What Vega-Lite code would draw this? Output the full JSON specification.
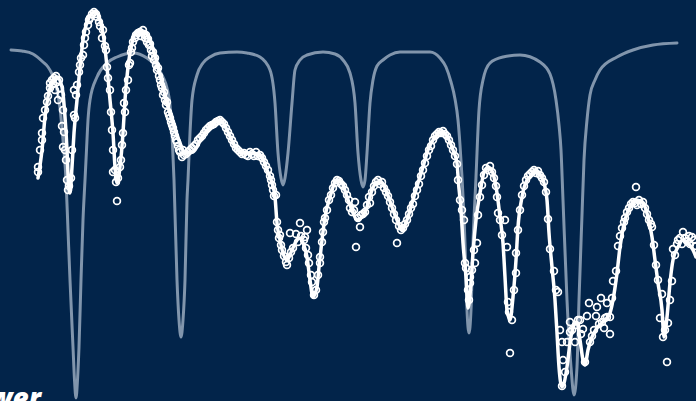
{
  "$schema": "https://vega.github.io/schema/vega-lite/v6.json",
  "width": 696,
  "height": 401,
  "autosize": {"type": "none"},
  "padding": 0,
  "background": "#02244A",
  "config": {"view": {"stroke": null}},
  "datasets": {
    "reference": [
      {"x":11,"y":50},{"x":22,"y":51},{"x":33,"y":54},{"x":43,"y":62},{"x":48,"y":67},{"x":52,"y":74},{"x":56,"y":86},{"x":60,"y":108},{"x":63,"y":140},{"x":66,"y":180},{"x":68,"y":230},{"x":70,"y":280},{"x":73,"y":347},{"x":74.5,"y":380},{"x":76,"y":398},{"x":77.5,"y":380},{"x":79,"y":347},{"x":81,"y":280},{"x":83,"y":220},{"x":85,"y":180},{"x":86.5,"y":150},{"x":88,"y":120},{"x":90,"y":100},{"x":97,"y":77},{"x":107,"y":63},{"x":117,"y":57},{"x":133,"y":53},{"x":147,"y":58},{"x":157,"y":67},{"x":163,"y":77},{"x":167,"y":88},{"x":170,"y":105},{"x":172,"y":133},{"x":174,"y":180},{"x":177,"y":280},{"x":179,"y":320},{"x":181,"y":337},{"x":183,"y":320},{"x":185,"y":280},{"x":187,"y":200},{"x":188,"y":180},{"x":190,"y":133},{"x":192,"y":100},{"x":197,"y":75},{"x":203,"y":63},{"x":210,"y":57},{"x":220,"y":53},{"x":237,"y":52},{"x":247,"y":53},{"x":260,"y":57},{"x":270,"y":70},{"x":275,"y":103},{"x":278,"y":153},{"x":281,"y":178},{"x":283,"y":185},{"x":285,"y":178},{"x":288,"y":153},{"x":292,"y":103},{"x":295,"y":70},{"x":300,"y":60},{"x":307,"y":55},{"x":323,"y":52},{"x":335,"y":54},{"x":343,"y":60},{"x":350,"y":73},{"x":355,"y":103},{"x":358,"y":153},{"x":361,"y":180},{"x":363,"y":187},{"x":365,"y":180},{"x":367,"y":153},{"x":370,"y":103},{"x":373,"y":80},{"x":377,"y":66},{"x":383,"y":60},{"x":390,"y":55},{"x":400,"y":52},{"x":430,"y":52},{"x":440,"y":58},{"x":446,"y":67},{"x":451,"y":82},{"x":455,"y":99},{"x":458,"y":120},{"x":460,"y":145},{"x":462,"y":177},{"x":465,"y":243},{"x":467,"y":310},{"x":469,"y":333},{"x":471,"y":310},{"x":473,"y":243},{"x":476,"y":177},{"x":479,"y":110},{"x":483,"y":80},{"x":490,"y":63},{"x":503,"y":57},{"x":520,"y":55},{"x":540,"y":62},{"x":550,"y":74},{"x":556,"y":100},{"x":559,"y":125},{"x":561,"y":150},{"x":563,"y":200},{"x":567,"y":300},{"x":571,"y":367},{"x":574,"y":395},{"x":577,"y":367},{"x":579,"y":300},{"x":582,"y":215},{"x":584,"y":160},{"x":587,"y":120},{"x":590,"y":95},{"x":595,"y":80},{"x":600,"y":70},{"x":617,"y":57},{"x":633,"y":50},{"x":653,"y":45},{"x":677,"y":43}
    ],
    "fit": [
      {"x":38,"y":178},{"x":42,"y":150},{"x":45,"y":117},{"x":48,"y":97},{"x":53,"y":80},{"x":57,"y":77},{"x":62,"y":87},{"x":65,"y":117},{"x":67,"y":150},{"x":68.5,"y":183},{"x":70,"y":193},{"x":72,"y":167},{"x":74,"y":133},{"x":77,"y":100},{"x":80,"y":67},{"x":83,"y":40},{"x":88,"y":20},{"x":95,"y":12},{"x":100,"y":20},{"x":103,"y":33},{"x":107,"y":67},{"x":110,"y":100},{"x":113,"y":133},{"x":115,"y":167},{"x":117,"y":183},{"x":120,"y":167},{"x":123,"y":133},{"x":125,"y":100},{"x":128,"y":67},{"x":132,"y":43},{"x":137,"y":32},{"x":142,"y":31},{"x":150,"y":40},{"x":157,"y":63},{"x":163,"y":87},{"x":168,"y":107},{"x":173,"y":123},{"x":180,"y":143},{"x":185,"y":153},{"x":193,"y":152},{"x":202,"y":137},{"x":210,"y":127},{"x":220,"y":120},{"x":227,"y":130},{"x":233,"y":143},{"x":243,"y":153},{"x":253,"y":153},{"x":262,"y":157},{"x":267,"y":170},{"x":272,"y":183},{"x":275,"y":197},{"x":277,"y":223},{"x":280,"y":240},{"x":283,"y":253},{"x":287,"y":260},{"x":292,"y":250},{"x":297,"y":240},{"x":300,"y":238},{"x":303,"y":243},{"x":307,"y":257},{"x":310,"y":280},{"x":313,"y":297},{"x":317,"y":287},{"x":319,"y":267},{"x":322,"y":240},{"x":325,"y":217},{"x":330,"y":197},{"x":337,"y":180},{"x":342,"y":183},{"x":347,"y":197},{"x":352,"y":210},{"x":357,"y":220},{"x":362,"y":217},{"x":367,"y":207},{"x":372,"y":190},{"x":377,"y":182},{"x":382,"y":183},{"x":387,"y":193},{"x":392,"y":207},{"x":397,"y":220},{"x":402,"y":230},{"x":407,"y":220},{"x":412,"y":203},{"x":418,"y":183},{"x":423,"y":167},{"x":428,"y":150},{"x":435,"y":137},{"x":442,"y":132},{"x":448,"y":138},{"x":453,"y":150},{"x":457,"y":163},{"x":458.5,"y":183},{"x":461,"y":210},{"x":463,"y":243},{"x":466,"y":277},{"x":468,"y":308},{"x":471,"y":283},{"x":473,"y":253},{"x":476,"y":220},{"x":480,"y":193},{"x":485,"y":170},{"x":490,"y":168},{"x":494,"y":177},{"x":497,"y":193},{"x":500,"y":217},{"x":503,"y":243},{"x":505,"y":277},{"x":507,"y":310},{"x":510,"y":320},{"x":513,"y":297},{"x":516,"y":260},{"x":518,"y":227},{"x":522,"y":197},{"x":527,"y":180},{"x":530,"y":177},{"x":535,"y":170},{"x":538,"y":172},{"x":543,"y":180},{"x":547,"y":200},{"x":549,"y":233},{"x":552,"y":267},{"x":555,"y":300},{"x":557,"y":333},{"x":559,"y":367},{"x":562,"y":387},{"x":567,"y":367},{"x":570,"y":343},{"x":573,"y":327},{"x":577,"y":323},{"x":580,"y":340},{"x":583,"y":360},{"x":585,"y":365},{"x":588,"y":350},{"x":592,"y":337},{"x":597,"y":328},{"x":605,"y":320},{"x":610,"y":313},{"x":613,"y":300},{"x":617,"y":273},{"x":620,"y":247},{"x":625,"y":220},{"x":630,"y":207},{"x":637,"y":200},{"x":643,"y":203},{"x":648,"y":217},{"x":652,"y":237},{"x":655,"y":260},{"x":658,"y":283},{"x":662,"y":310},{"x":664,"y":337},{"x":667,"y":317},{"x":670,"y":283},{"x":673,"y":260},{"x":678,"y":247},{"x":683,"y":240},{"x":688,"y":243},{"x":693,"y":250},{"x":696,"y":257}
    ],
    "measured": [
      {"x":38,"y":172},{"x":38,"y":167},{"x":40,"y":150},{"x":42,"y":140},{"x":42,"y":133},{"x":43,"y":118},{"x":45,"y":110},{"x":47,"y":102},{"x":48,"y":96},{"x":50,"y":88},{"x":50,"y":83},{"x":52,"y":80},{"x":53,"y":84},{"x":54,"y":78},{"x":55,"y":90},{"x":56,"y":76},{"x":57,"y":82},{"x":58,"y":100},{"x":59,"y":80},{"x":60,"y":88},{"x":61,"y":95},{"x":62,"y":126},{"x":63,"y":110},{"x":63,"y":147},{"x":64,"y":132},{"x":65,"y":150},{"x":66,"y":160},{"x":67,"y":180},{"x":68,"y":190},{"x":69,"y":186},
      {"x":71,"y":178},{"x":72,"y":150},{"x":74,"y":115},{"x":74,"y":90},{"x":75,"y":118},{"x":76,"y":95},{"x":77,"y":85},{"x":79,"y":72},{"x":80,"y":65},{"x":81,"y":58},{"x":83,"y":55},{"x":84,"y":45},{"x":85,"y":38},{"x":86,"y":32},{"x":88,"y":25},{"x":89,"y":20},{"x":90,"y":18},{"x":92,"y":14},{"x":94,"y":12},{"x":96,"y":14},{"x":97,"y":17},{"x":99,"y":22},{"x":100,"y":26},{"x":102,"y":38},{"x":103,"y":30},{"x":105,"y":46},{"x":106,"y":50},{"x":107,"y":67},{"x":108,"y":78},{"x":110,"y":90},{"x":111,"y":112},{"x":112,"y":130},{"x":113,"y":150},{"x":113,"y":172},{"x":115,"y":170},{"x":116,"y":182},{"x":117,"y":201},{"x":118,"y":178},
      {"x":120,"y":167},{"x":121,"y":160},{"x":122,"y":145},{"x":123,"y":133},{"x":124,"y":103},{"x":125,"y":112},{"x":126,"y":90},{"x":128,"y":80},{"x":129,"y":65},{"x":130,"y":63},{"x":131,"y":52},{"x":132,"y":48},{"x":133,"y":42},{"x":135,"y":38},{"x":136,"y":35},{"x":138,"y":33},{"x":140,"y":32},{"x":141,"y":36},{"x":143,"y":30},{"x":144,"y":34},{"x":145,"y":38},{"x":146,"y":35},{"x":147,"y":42},{"x":148,"y":39},
      {"x":149,"y":45},{"x":150,"y":44},{"x":151,"y":50},{"x":152,"y":56},{"x":153,"y":52},{"x":154,"y":60},{"x":155,"y":58},{"x":156,"y":65},{"x":157,"y":70},{"x":158,"y":68},{"x":159,"y":76},{"x":160,"y":80},{"x":161,"y":85},{"x":162,"y":88},{"x":163,"y":95},{"x":164,"y":92},{"x":165,"y":100},{"x":166,"y":105},{"x":167,"y":102},{"x":168,"y":112},{"x":169,"y":115},{"x":170,"y":118},{"x":171,"y":122},{"x":172,"y":125},{"x":173,"y":128},{"x":174,"y":132},{"x":175,"y":136},{"x":176,"y":140},{"x":177,"y":142},{"x":178,"y":146},{"x":179,"y":150},{"x":180,"y":152},{"x":182,"y":157},{"x":183,"y":150},{"x":184,"y":155},{"x":186,"y":154},
      {"x":188,"y":152},{"x":190,"y":150},{"x":192,"y":148},{"x":194,"y":146},{"x":196,"y":144},{"x":198,"y":140},{"x":200,"y":138},{"x":202,"y":136},{"x":204,"y":133},{"x":206,"y":130},{"x":208,"y":128},{"x":210,"y":126},{"x":212,"y":125},{"x":214,"y":124},{"x":216,"y":122},{"x":218,"y":121},{"x":220,"y":120},{"x":222,"y":122},{"x":224,"y":124},{"x":226,"y":128},{"x":228,"y":132},{"x":230,"y":136},{"x":232,"y":140},{"x":234,"y":144},{"x":236,"y":148},{"x":238,"y":150},{"x":240,"y":152},{"x":242,"y":154},{"x":244,"y":153},{"x":246,"y":155},{"x":248,"y":156},{"x":250,"y":152},{"x":252,"y":154},{"x":254,"y":156},{"x":256,"y":152},{"x":258,"y":156},{"x":260,"y":155},{"x":262,"y":158},{"x":264,"y":162},{"x":266,"y":166},{"x":268,"y":170},{"x":270,"y":176},{"x":271,"y":180},
      {"x":272,"y":185},{"x":273,"y":190},{"x":274,"y":196},{"x":276,"y":195},{"x":277,"y":222},{"x":278,"y":230},{"x":279,"y":238},{"x":280,"y":235},{"x":281,"y":245},{"x":282,"y":250},{"x":284,"y":256},{"x":286,"y":262},{"x":287,"y":265},{"x":289,"y":258},{"x":290,"y":233},{"x":291,"y":252},{"x":293,"y":248},{"x":296,"y":234},{"x":298,"y":242},{"x":300,"y":223},{"x":301,"y":236},{"x":304,"y":240},{"x":305,"y":237},{"x":307,"y":230},{"x":306,"y":248},{"x":308,"y":255},{"x":309,"y":263},{"x":311,"y":275},{"x":312,"y":282},{"x":314,"y":295},{"x":316,"y":290},{"x":318,"y":275},{"x":320,"y":257},{"x":320,"y":263},
      {"x":322,"y":242},{"x":323,"y":232},{"x":324,"y":222},{"x":325,"y":218},{"x":327,"y":210},{"x":329,"y":200},{"x":331,"y":195},{"x":333,"y":188},{"x":335,"y":183},{"x":337,"y":180},{"x":339,"y":181},{"x":341,"y":184},{"x":343,"y":186},{"x":345,"y":190},{"x":347,"y":195},{"x":349,"y":200},{"x":350,"y":208},{"x":352,"y":212},{"x":354,"y":210},{"x":355,"y":202},{"x":356,"y":247},{"x":358,"y":218},{"x":360,"y":227},{"x":361,"y":215},{"x":363,"y":214},{"x":365,"y":212},{"x":367,"y":205},{"x":369,"y":197},{"x":370,"y":203},{"x":372,"y":192},{"x":374,"y":186},{"x":376,"y":182},{"x":378,"y":180},{"x":380,"y":184},{"x":382,"y":182},{"x":384,"y":188},{"x":386,"y":192},{"x":388,"y":196},{"x":390,"y":202},{"x":392,"y":208},{"x":394,"y":214},{"x":396,"y":220},{"x":397,"y":243},{"x":399,"y":226},{"x":401,"y":230},
      {"x":403,"y":228},{"x":405,"y":224},{"x":407,"y":220},{"x":409,"y":214},{"x":411,"y":208},{"x":413,"y":204},{"x":415,"y":196},{"x":417,"y":190},{"x":419,"y":184},{"x":421,"y":176},{"x":423,"y":170},{"x":425,"y":163},{"x":427,"y":156},{"x":429,"y":150},{"x":431,"y":146},{"x":433,"y":140},{"x":435,"y":136},{"x":437,"y":134},{"x":439,"y":132},{"x":441,"y":133},{"x":443,"y":131},{"x":445,"y":134},{"x":447,"y":136},{"x":449,"y":140},{"x":451,"y":145},{"x":453,"y":150},{"x":455,"y":156},{"x":457,"y":164},{"x":458,"y":180},{"x":460,"y":200},{"x":462,"y":210},{"x":464,"y":220},{"x":465,"y":263},{"x":466,"y":268},{"x":468,"y":290},{"x":469,"y":300},{"x":470,"y":277},{"x":470,"y":283},
      {"x":472,"y":270},{"x":474,"y":250},{"x":475,"y":263},{"x":477,"y":243},{"x":478,"y":215},{"x":480,"y":197},{"x":482,"y":185},{"x":484,"y":175},{"x":486,"y":168},{"x":488,"y":170},{"x":490,"y":166},{"x":492,"y":172},{"x":494,"y":178},{"x":496,"y":186},{"x":497,"y":197},{"x":498,"y":213},{"x":500,"y":220},{"x":502,"y":235},{"x":505,"y":220},{"x":507,"y":247},{"x":508,"y":302},{"x":509,"y":312},{"x":510,"y":353},{"x":512,"y":320},{"x":514,"y":290},{"x":516,"y":253},{"x":516,"y":273},{"x":518,"y":230},{"x":520,"y":210},{"x":522,"y":195},{"x":524,"y":186},{"x":526,"y":180},{"x":528,"y":176},
      {"x":530,"y":174},{"x":532,"y":172},{"x":534,"y":170},{"x":536,"y":173},{"x":538,"y":171},{"x":540,"y":175},{"x":542,"y":178},{"x":544,"y":182},{"x":546,"y":192},{"x":548,"y":219},{"x":550,"y":249},{"x":554,"y":271},{"x":556,"y":290},{"x":558,"y":292},{"x":560,"y":330},{"x":562,"y":342},{"x":563,"y":360},{"x":562,"y":386},{"x":565,"y":372},{"x":567,"y":342},{"x":570,"y":332},{"x":570,"y":322},{"x":572,"y":330},{"x":575,"y":342},{"x":576,"y":325},{"x":578,"y":320},{"x":580,"y":320},{"x":581,"y":334},{"x":583,"y":329},{"x":585,"y":362},{"x":587,"y":316},{"x":589,"y":303},{"x":590,"y":342},{"x":592,"y":336},{"x":594,"y":330},{"x":596,"y":316},{"x":597,"y":307},{"x":599,"y":324},{"x":601,"y":298},{"x":602,"y":322},{"x":604,"y":328},{"x":605,"y":318},{"x":607,"y":303},{"x":607,"y":317},{"x":610,"y":317},{"x":610,"y":334},{"x":612,"y":298},
      {"x":613,"y":281},{"x":616,"y":271},{"x":618,"y":246},{"x":620,"y":236},{"x":622,"y":228},{"x":624,"y":222},{"x":625,"y":218},{"x":627,"y":212},{"x":629,"y":208},{"x":631,"y":204},{"x":633,"y":202},{"x":635,"y":203},{"x":636,"y":187},{"x":637,"y":205},{"x":639,"y":200},{"x":641,"y":204},{"x":643,"y":202},{"x":645,"y":208},{"x":647,"y":214},{"x":649,"y":220},{"x":651,"y":224},{"x":652,"y":227},{"x":654,"y":245},{"x":656,"y":265},{"x":658,"y":280},{"x":660,"y":318},{"x":662,"y":294},{"x":663,"y":337},{"x":665,"y":330},{"x":667,"y":362},{"x":668,"y":323},{"x":670,"y":300},{"x":672,"y":281},{"x":673,"y":249},{"x":675,"y":255},{"x":677,"y":244},{"x":678,"y":240},{"x":680,"y":238},{"x":682,"y":244},{"x":683,"y":232},{"x":685,"y":238},{"x":687,"y":241},{"x":689,"y":236},{"x":690,"y":244},{"x":692,"y":237},{"x":694,"y":240},{"x":696,"y":246}
    ],
    "label": [{"x": 41, "y": 408, "text": "Power"}]
  },
  "encoding": {
    "x": {"field": "x", "type": "quantitative", "scale": {"domain": [0, 696], "nice": false, "zero": false}, "axis": null},
    "y": {"field": "y", "type": "quantitative", "scale": {"domain": [0, 401], "nice": false, "zero": false, "reverse": true}, "axis": null}
  },
  "layer": [
    {
      "data": {"name": "reference"},
      "mark": {"type": "line", "interpolate": "monotone", "stroke": "#8195AC", "strokeWidth": 3, "strokeCap": "round"}
    },
    {
      "data": {"name": "fit"},
      "mark": {"type": "line", "interpolate": "monotone", "stroke": "#FFFFFF", "strokeWidth": 3.5, "strokeCap": "round", "strokeJoin": "round"}
    },
    {
      "data": {"name": "measured"},
      "mark": {"type": "point", "shape": "circle", "filled": false, "stroke": "#FFFFFF", "strokeWidth": 1.7, "size": 46, "opacity": 1}
    },
    {
      "data": {"name": "label"},
      "mark": {"type": "text", "align": "right", "baseline": "alphabetic", "font": "Open Sans", "fontSize": 28, "fontWeight": 800, "fontStyle": "italic", "color": "#FFFFFF"},
      "encoding": {"text": {"field": "text"}}
    }
  ]
}
